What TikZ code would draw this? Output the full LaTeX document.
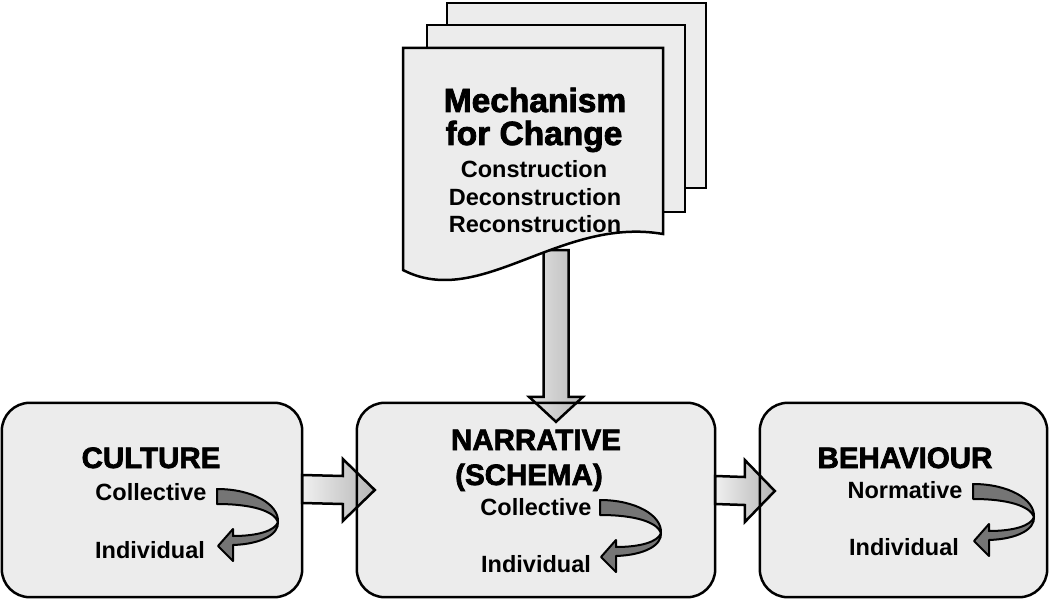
\documentclass[tikz,border=0pt]{standalone}
\usepackage{fontspec}
\setmainfont{Liberation Sans}
\newfontfamily\heavyfont{Liberation Sans}[UprightFeatures={FakeBold=2.4},BoldFeatures={FakeBold=2.4}]
\usetikzlibrary{calc}
\definecolor{boxgray}{gray}{0.925}
\definecolor{twistgray}{gray}{0.46}
\tikzset{
  x=1pt, y=-1pt,
  boxfill/.style={rectangle, rounded corners=28pt, fill=boxgray, inner sep=0pt, minimum height=194pt},
  boxline/.style={draw=black, line width=2.5pt, rounded corners=28pt},
  docsheet/.style={draw=black, fill=boxgray, line width=2.5pt, line join=miter},
  harrow/.style={draw=black, line width=2.5pt, line join=miter, left color=gray!12, right color=gray!58},
  varrow/.style={draw=black, line width=2.5pt, line join=miter, left color=gray!22, right color=gray!55},
  twistfill/.style={draw=black, line width=2pt, fill=twistgray, line join=round},
  head/.style={inner sep=0pt, anchor=base, font=\heavyfont\bfseries\fontsize{29.5}{30}\selectfont},
  bighead/.style={inner sep=0pt, anchor=base, font=\heavyfont\bfseries\fontsize{33.5}{34}\selectfont},
  sub/.style={inner sep=0pt, anchor=base, font=\bfseries\fontsize{23.5}{24}\selectfont},
  twist/.pic={
    \path[twistfill] (0,0) .. controls (35,0) and (62,15) .. (61,33)
      .. controls (58,42) and (40,47) .. (16,47) -- (16,40) -- (1,57) -- (16,72) -- (16,56)
      .. controls (45,55) and (62,45) .. (61,33)
      .. controls (57,22) and (35,15) .. (0,15) -- cycle;
  }
}
\begin{document}
\begin{tikzpicture}
\useasboundingbox[fill=white] (0,0) rectangle (1050,599);

% box fills
\node[boxfill, minimum width=300pt] (culture) at (152,500) {};
\node[boxfill, minimum width=358pt] (narr) at (536,500) {};
\node[boxfill, minimum width=287pt] (behav) at (903.5,500) {};

\coordinate (mechbottom) at (556,250);

% block arrows
\coordinate (a1s) at ($(culture.east)+(0,-11)$);
\coordinate (a1t) at ($(narr.west)+(18,-10)$);
\path[harrow] ($(a1s)+(0,-14)$) -- ($(a1t)+(-32,-14)$) -- ($(a1t)+(-32,-31)$) -- (a1t)
  -- ($(a1t)+(-32,31)$) -- ($(a1t)+(-32,14)$) -- ($(a1s)+(0,14)$) -- cycle;
\coordinate (a2s) at ($(narr.east)+(0,-10)$);
\coordinate (a2t) at ($(behav.west)+(15,-9)$);
\path[harrow] ($(a2s)+(0,-14)$) -- ($(a2t)+(-30,-14)$) -- ($(a2t)+(-30,-31)$) -- (a2t)
  -- ($(a2t)+(-30,31)$) -- ($(a2t)+(-30,14)$) -- ($(a2s)+(0,14)$) -- cycle;
\coordinate (a3t) at ($(narr.north)+(20,19)$);
\path[varrow] ($(mechbottom)+(-12.5,0)$) -- ($(a3t)+(-12.5,-25)$) -- ($(a3t)+(-27,-25)$) -- (a3t)
  -- ($(a3t)+(27,-25)$) -- ($(a3t)+(12.5,-25)$) -- ($(mechbottom)+(12.5,0)$) -- cycle;

% box borders
\draw[boxline] (culture.south west) rectangle (culture.north east);
\draw[boxline] (narr.south west) rectangle (narr.north east);
\draw[boxline] (behav.south west) rectangle (behav.north east);

% document stack
\path[docsheet] (447,3) rectangle (706,188);
\path[docsheet] (427,25) rectangle (685,212);
\path[docsheet] (403,48) -- (663,48) -- (663,234)
  .. controls (560,216) and (480,310) .. (403,270) -- cycle;

% texts
\node[bighead] (m1) at (535,112) {Mechanism};
\node[bighead] (m2) at (534,145) {for Change};
\node[sub] (m3) at (534,178) {Construction};
\node[sub] (m4) at (535,205) {Deconstruction};
\node[sub] (m5) at (535,232) {Reconstruction};

\node[head] (cult) at (151,468) {CULTURE};
\node[sub] (cult1) at (151,500) {Collective};
\node[sub] (cult2) at (150,558) {Individual};

\node[head] (nar) at (536,450) {NARRATIVE};
\node[head] (sch) at (529,485) {(SCHEMA)};
\node[sub] (nar1) at (536,515) {Collective};
\node[sub] (nar2) at (536,572) {Individual};

\node[head] (beh) at (905,468) {BEHAVIOUR};
\node[sub] (beh1) at (905,498) {Normative};
\node[sub] (beh2) at (904,555) {Individual};

% twisted arrows
\pic at (217,489) {twist};
\pic at (600,500) {twist};
\pic at (973,484) {twist};
\end{tikzpicture}
\end{document}
